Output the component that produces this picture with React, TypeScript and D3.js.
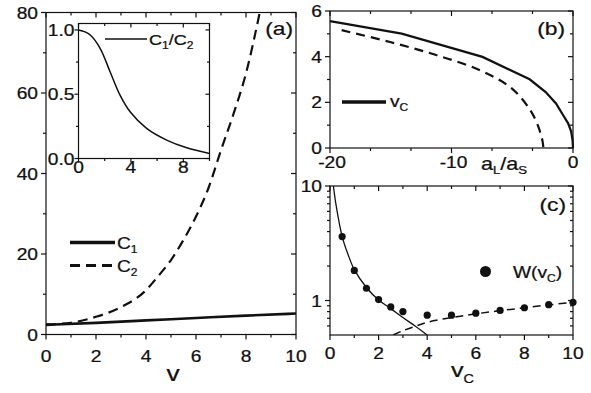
import * as d3 from 'd3';

// panel (a): C1, C2 vs v
const c1Points: [number, number][] = [[0, 2.4], [2, 2.9], [4, 3.5], [6, 4.1], [8, 4.7], [10, 5.2]];
const c2Points: [number, number][] = [
  [0, 2.5], [1, 2.9], [2, 4.4], [3, 6.8], [4, 11], [4.5, 14.6], [5, 18.5], [5.5, 23.5],
  [6, 29.3], [6.5, 36.4], [7, 45.8], [7.5, 54.8], [8, 64.9], [8.55, 80],
];
// inset: C1/C2
const ratioPoints: [number, number][] = [
  [0, 1.0], [0.5, 0.985], [0.9, 0.96], [1.65, 0.857], [2.41, 0.675], [3.17, 0.493], [3.94, 0.363],
  [5.2, 0.234], [6.73, 0.143], [8.26, 0.083], [10, 0.039],
];
// panel (b): vc vs aL/aS
const vcSolid: [number, number][] = [
  [-20, 5.56], [-14.1, 5.01], [-7.45, 3.99], [-3.57, 3.01], [-2.25, 2.45], [-1.4, 1.95],
  [-0.77, 1.4], [-0.4, 1.08], [-0.15, 0.72], [-0.04, 0.35], [0, 0],
];
const vcDashed: [number, number][] = [
  [-19.04, 5.16], [-15.05, 4.64], [-11.2, 4.06], [-7.63, 3.4], [-5.02, 2.6], [-3.51, 1.65],
  [-2.9, 1.0], [-2.65, 0.6], [-2.5, 0.28], [-2.44, 0],
];
// panel (c): W(vc)
const wDots: [number, number][] = [
  [0.5, 3.62], [1, 1.83], [1.5, 1.28], [2, 1.02], [2.5, 0.88], [3, 0.8], [4, 0.745],
  [5, 0.745], [6, 0.775], [7, 0.82], [8, 0.865], [9, 0.92], [10, 0.965],
];
const wSolid: [number, number][] = [
  [0.14, 10], [0.25, 6.8], [0.5, 3.62], [0.75, 2.5], [1, 1.86], [1.5, 1.3], [2, 1.01],
  [2.5, 0.85], [3, 0.71], [3.5, 0.6], [4, 0.5],
];
const wDashed: [number, number][] = [
  [2.6, 0.5], [3, 0.545], [3.5, 0.595], [4, 0.645], [5, 0.71], [6, 0.765], [7, 0.815],
  [8, 0.865], [9, 0.915], [10, 0.965],
];

const aXTicks = [0, 2, 4, 6, 8, 10];
const aYTicks = [0, 20, 40, 60, 80];
const insetXTicks = [0, 4, 8];
const insetYTicks = [0, 0.5, 1.0];
const bXTicks = [-20, -10, 0];
const bYTicks = [0, 2, 4, 6];
const cXTicks = [0, 2, 4, 6, 8, 10];
const cYTicks = [1, 10];

const FONT = '"Liberation Sans", Arial, sans-serif';
const INK = '#111';
const SX = 1.2; // the figure is stretched sideways

function Txt({ x, y, size = 16, anchor = 'start', children }: any) {
  return (
    <text transform={`translate(${x},${y}) scale(${SX},1)`} fontSize={size} fontFamily={FONT}
      textAnchor={anchor} fill={INK} stroke={INK} strokeWidth={0.25}>
      {children}
    </text>
  );
}

// frame + ticks: bottom/left point out, top/right mirror them (point same way)
function Frame({ x, y, xMajor, xMinor, yMajor, yMinor, len = 5, minLen = 3 }: any) {
  const [x0, x1] = x.range();
  const [y0, y1] = y.range();
  const segs: any[] = [];
  xMajor.forEach((v: number) => segs.push([x(v), y0, x(v), y0 + len], [x(v), y1, x(v), y1 + len]));
  xMinor.forEach((v: number) => segs.push([x(v), y0, x(v), y0 + minLen], [x(v), y1, x(v), y1 + minLen]));
  yMajor.forEach((v: number) => segs.push([x0, y(v), x0 - len, y(v)], [x1, y(v), x1 - len, y(v)]));
  yMinor.forEach((v: number) => segs.push([x0, y(v), x0 - minLen, y(v)], [x1, y(v), x1 - minLen, y(v)]));
  return (
    <g stroke={INK} strokeWidth={1.2}>
      <rect x={x0} y={y1} width={x1 - x0} height={y0 - y1} fill="none" />
      {segs.map((s, i) => <line key={i} x1={s[0]} y1={s[1]} x2={s[2]} y2={s[3]} />)}
    </g>
  );
}

export default function App() {
  // panel (a)
  const ax = d3.scaleLinear().domain([0, 10]).range([46, 296]);
  const ay = d3.scaleLinear().domain([0, 80]).range([334.5, 12.5]);
  const aLine = d3.line<[number, number]>().x(d => ax(d[0])).y(d => ay(d[1])).curve(d3.curveMonotoneX);

  // inset
  const ix = d3.scaleLinear().domain([0, 10]).range([78.5, 209.5]);
  const iy = d3.scaleLinear().domain([0, 1.05]).range([158.5, 23.5]);
  const iLine = d3.line<[number, number]>().x(d => ix(d[0])).y(d => iy(d[1])).curve(d3.curveCatmullRom);

  // panel (b)
  const bx = d3.scaleLinear().domain([-20, 0]).range([330, 573]);
  const by = d3.scaleLinear().domain([0, 6]).range([148, 11]);
  const bSolid = d3.line<[number, number]>().x(d => bx(d[0])).y(d => by(d[1]));
  const bDash = d3.line<[number, number]>().x(d => bx(d[0])).y(d => by(d[1])).curve(d3.curveCatmullRom);

  // panel (c)
  const cx = d3.scaleLinear().domain([0, 10]).range([330, 573]);
  const cy = d3.scaleLog().domain([0.5, 10]).range([335, 186]);
  const cLine = d3.line<[number, number]>().x(d => cx(d[0])).y(d => cy(d[1])).curve(d3.curveCatmullRom);
  const cLogMinor = [0.6, 0.7, 0.8, 0.9, 2, 3, 4, 5, 6, 7, 8, 9];

  return (
    <svg width={591} height={393} style={{ position: 'absolute', left: 0, top: 0, background: '#fff' }}>
      <defs>
        <clipPath id="clipC"><rect x={330} y={186} width={243} height={149} /></clipPath>
        <clipPath id="clipA"><rect x={46} y={12.5} width={250} height={322} /></clipPath>
      </defs>

      {/* ---- (a) ---- */}
      <Frame x={ax} y={ay} xMajor={aXTicks} xMinor={[1, 3, 5, 7, 9]} yMajor={aYTicks} yMinor={[10, 30, 50, 70]} />
      {aXTicks.map(v => <Txt key={v} x={ax(v)} y={361.5} anchor="middle">{v}</Txt>)}
      {aYTicks.map(v => <Txt key={v} x={38} y={ay(v) + 6} anchor="end">{v}</Txt>)}
      <Txt x={173} y={380.5} size={22} anchor="middle">v</Txt>
      <g clipPath="url(#clipA)" fill="none" stroke={INK}>
        <path d={aLine(c2Points) ?? ''} strokeWidth={2.2} strokeDasharray="10,6" />
        <path d={aLine(c1Points) ?? ''} strokeWidth={2.6} />
      </g>
      <Txt x={293} y={34.5} size={19} anchor="end">(a)</Txt>
      <line x1={70} x2={115} y1={242.5} y2={242.5} stroke={INK} strokeWidth={3.5} />
      <Txt x={117} y={248.5}>C<tspan fontSize={10} dy={4}>1</tspan></Txt>
      <line x1={70} x2={115} y1={265.5} y2={265.5} stroke={INK} strokeWidth={3} strokeDasharray="10,6" />
      <Txt x={117} y={271.5}>C<tspan fontSize={10} dy={4}>2</tspan></Txt>

      {/* inset */}
      <rect x={78.5} y={23.5} width={131} height={135} fill="#fff" />
      <Frame x={ix} y={iy} xMajor={insetXTicks} xMinor={[2, 6, 10]} yMajor={insetYTicks} yMinor={[0.25, 0.75]} len={4} minLen={2.5} />
      {insetXTicks.map(v => <Txt key={v} x={ix(v)} y={172.5} anchor="middle">{v}</Txt>)}
      {insetYTicks.map(v => <Txt key={v} x={74.5} y={iy(v) + 6} anchor="end">{v.toFixed(1)}</Txt>)}
      <path d={iLine(ratioPoints) ?? ''} fill="none" stroke={INK} strokeWidth={1.5} />
      <line x1={105} x2={147} y1={39} y2={39} stroke={INK} strokeWidth={1.3} />
      <Txt x={149} y={45} size={15}>
        C<tspan fontSize={10} dy={4}>1</tspan><tspan dy={-4}>/C</tspan><tspan fontSize={10} dy={4}>2</tspan>
      </Txt>

      {/* ---- (b) ---- */}
      <Frame x={bx} y={by} xMajor={bXTicks} xMinor={[-50 / 3, -40 / 3, -20 / 3, -10 / 3]} yMajor={bYTicks} yMinor={[1, 3, 5]} />
      {bXTicks.map(v => <Txt key={v} x={bx(v) + (v < 0 ? 2 : 0)} y={167.5} anchor="middle">{v}</Txt>)}
      {bYTicks.map(v => <Txt key={v} x={322} y={by(v) + 6} anchor="end">{v}</Txt>)}
      <Txt x={481} y={169.5} size={18}>
        a<tspan fontSize={11} dy={4}>L</tspan><tspan dy={-4}>/a</tspan><tspan fontSize={11} dy={4}>S</tspan>
      </Txt>
      <path d={bDash(vcDashed) ?? ''} fill="none" stroke={INK} strokeWidth={2.2} strokeDasharray="9,6" />
      <path d={bSolid(vcSolid) ?? ''} fill="none" stroke={INK} strokeWidth={2.2} />
      <Txt x={565} y={34.5} size={19} anchor="end">(b)</Txt>
      <line x1={342} x2={386} y1={102} y2={102} stroke={INK} strokeWidth={3.5} />
      <Txt x={390} y={107}>v<tspan fontSize={10} dy={4}>C</tspan></Txt>

      {/* ---- (c) ---- */}
      <Frame x={cx} y={cy} xMajor={cXTicks} xMinor={[1, 3, 5, 7, 9]} yMajor={cYTicks} yMinor={cLogMinor} />
      {cXTicks.map(v => <Txt key={v} x={cx(v)} y={359} anchor="middle">{v}</Txt>)}
      {cYTicks.map(v => <Txt key={v} x={322} y={cy(v) + 6} anchor="end">{v}</Txt>)}
      <Txt x={451} y={377} size={21}>v<tspan fontSize={12} dy={6}>C</tspan></Txt>
      <g clipPath="url(#clipC)" fill="none" stroke={INK}>
        <path d={cLine(wSolid) ?? ''} strokeWidth={1.3} />
        <path d={cLine(wDashed) ?? ''} strokeWidth={1.5} strokeDasharray="8,5" />
      </g>
      {wDots.map((d, i) => <circle key={i} cx={cx(d[0])} cy={cy(d[1])} r={3.6} fill={INK} />)}
      <Txt x={566} y={211} size={19} anchor="end">(c)</Txt>
      <circle cx={485.5} cy={271.5} r={5.5} fill={INK} />
      <Txt x={513} y={277.5} size={16}>W(v<tspan fontSize={10} dy={4}>C</tspan><tspan dy={-4}>)</tspan></Txt>
    </svg>
  );
}
